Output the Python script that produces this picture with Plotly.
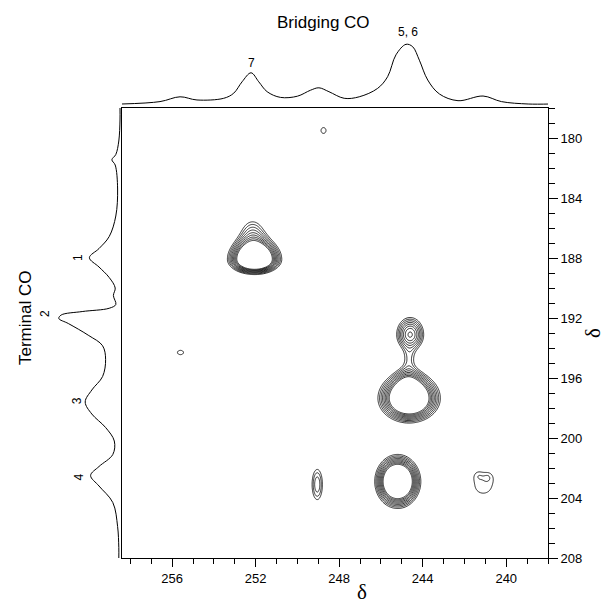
import numpy as np
import plotly.graph_objects as go

# ---------------- data ----------------
# Top projection (bridging CO): chemical shift (ppm) and relative intensity
top_ppm = [258.42, 256.58, 255.62, 254.81, 253.53, 253.05, 252.65, 252.22, 251.85, 251.45,
           250.81, 250.0, 249.37, 248.97, 248.49, 247.76, 247.04, 246.16, 245.68, 245.28,
           244.8, 244.48, 244.16, 243.76, 243.2, 242.31, 241.11, 240.23, 238.95, 237.9]
top_int = [0.0, 0.04, 0.12, 0.067, 0.095, 0.18, 0.37, 0.52, 0.37, 0.205,
           0.11, 0.13, 0.23, 0.27, 0.205, 0.095, 0.12, 0.26, 0.455, 0.82,
           0.995, 0.955, 0.73, 0.4, 0.167, 0.055, 0.133, 0.04, 0.0, 0.0]

# Left projection (terminal CO)
left_ppm = [178.0, 178.8, 180.2, 181.1, 181.45, 181.8, 183.4, 185.2, 186.57, 187.37,
            187.98, 188.6, 189.3, 190.0, 190.5, 191.1, 191.35, 191.57, 191.8, 192.03,
            192.37, 193.17, 193.85, 194.76, 195.9, 196.8, 197.6, 198.4, 199.3, 200.2,
            201.1, 201.9, 202.5, 203.2, 204.3, 205.9, 207.3, 208.0]
left_int = [0.0, 0.0, 0.02, 0.07, 0.135, 0.08, 0.04, 0.07, 0.18, 0.35,
            0.51, 0.35, 0.18, 0.08, 0.11, 0.07, 0.18, 0.63, 0.98, 1.02,
            0.86, 0.52, 0.29, 0.24, 0.29, 0.47, 0.58, 0.47, 0.24, 0.095,
            0.12, 0.35, 0.49, 0.35, 0.12, 0.04, 0.02, 0.02]

# Cross peaks: bridging shift, terminal shift, x width, y width (upfield / downfield side), amplitude
peak_x = [252.05, 252.15, 244.65, 244.7, 245.2, 244.6, 244.65, 249.05, 241.1, 241.35, 240.85, 248.75, 255.6]
peak_y = [188.1, 186.0, 197.35, 195.9, 202.9, 193.1, 194.7, 203.1, 203.2, 202.45, 202.55, 179.5, 194.3]
peak_sx = [0.84, 0.6, 0.98, 0.45, 0.72, 0.57, 0.25, 0.32, 1.1, 0.2, 0.2, 0.5, 0.6]
peak_sy_up = [0.95, 0.9, 1.15, 0.7, 1.18, 1.0, 0.5, 1.3, 1.4, 0.3, 0.3, 0.8, 0.6]
peak_sy_dn = [0.65, 0.9, 1.08, 0.7, 1.18, 0.9, 0.5, 1.3, 1.4, 0.3, 0.3, 0.8, 0.6]
peak_amp = [3.3, 1.0, 3.2, 0.5, 3.2, 1.9, 0.45, 1.35, 1.06, 0.2, 0.2, 1.03, 1.03]

# Projection peak labels
top_lab = ["7", "5, 6"]
top_lab_ppm = [252.2, 244.72]
top_lab_int = [0.69, 1.205]
left_lab = ["1", "2", "3", "4"]
left_lab_ppm = [188.0, 191.7, 197.5, 202.6]
left_lab_int = [0.70, 1.26, 0.72, 0.69]

x_ticks = [256, 252, 248, 244, 240]
y_ticks = [180, 184, 188, 192, 196, 200, 204, 208]

# ---------------- 2D map from peak table ----------------
gx = np.arange(238.0, 258.45, 0.05)
gy = np.arange(178.0, 208.01, 0.05)
X, Y = np.meshgrid(gx, gy)
Z = np.zeros_like(X)
for x0, y0, sx, su, sd, a in zip(peak_x, peak_y, peak_sx, peak_sy_up, peak_sy_dn, peak_amp):
    sy = np.where(Y < y0, su, sd)
    Z += a * np.exp(-((X - x0) ** 2 / (2 * sx ** 2) + (Y - y0) ** 2 / (2 * sy ** 2)))

# page body adds an 8 px offset; figure sized so it ends at the window edge
OFF = 8
W, H = 602, 595
def px(v):
    return (v - OFF) / W
def py(v):
    return 1 - (v - OFF) / H

fig = go.Figure()
fig.add_trace(go.Contour(
    x=gx, y=gy, z=Z, xaxis="x", yaxis="y",
    contours=dict(coloring="lines", start=1.0, end=2.0, size=0.125),
    colorscale=[[0, "black"], [1, "black"]], showscale=False,
    line=dict(width=0.8), hoverinfo="skip"))
fig.add_trace(go.Scatter(x=top_ppm, y=top_int, xaxis="x2", yaxis="y2", mode="lines",
                         line=dict(color="black", width=1.0, shape="spline"), hoverinfo="skip"))
fig.add_trace(go.Scatter(x=left_int, y=left_ppm, xaxis="x3", yaxis="y3", mode="lines",
                         line=dict(color="black", width=1.0, shape="spline"), hoverinfo="skip"))

sans = "Liberation Sans, Arial, sans-serif"
serif = "Liberation Serif, Times New Roman, serif"
tickfont = dict(family=sans, size=13, color="black")
fig.update_layout(
    width=W, height=H, margin=dict(l=0, r=0, t=0, b=0),
    paper_bgcolor="white", plot_bgcolor="white", showlegend=False,
    xaxis=dict(domain=[px(122), px(548)], range=[258.4, 238.0], anchor="y",
               tickmode="array", tickvals=x_ticks, ticks="outside", ticklen=8,
               tickcolor="black", tickfont=tickfont, showline=True, mirror=True,
               linecolor="black", linewidth=1, showgrid=False, zeroline=False,
               minor=dict(tickmode="linear", tick0=238, dtick=1, ticks="outside",
                          ticklen=5, tickcolor="black", showgrid=False),
               automargin=False),
    yaxis=dict(domain=[py(558), py(108)], range=[208, 178], anchor="x", side="right",
               tickmode="array", tickvals=y_ticks, ticks="outside", ticklen=9,
               tickcolor="black", tickfont=tickfont, showline=True, mirror=True,
               linecolor="black", linewidth=1, showgrid=False, zeroline=False,
               minor=dict(tickmode="linear", tick0=178, dtick=1, ticks="outside",
                          ticklen=6, tickcolor="black", showgrid=False),
               automargin=False),
    xaxis2=dict(domain=[px(122), px(548)], matches="x", anchor="y2", visible=False),
    yaxis2=dict(domain=[py(108), py(28)], range=[-4 / 60, 76 / 60], anchor="x2", visible=False),
    xaxis3=dict(domain=[px(30), px(122)], range=[1.5, -2 / 60], anchor="y3", visible=False),
    yaxis3=dict(domain=[py(558), py(108)], matches="y", anchor="x3", visible=False),
)

C = dict(xanchor="center", yanchor="middle", showarrow=False)
ann = []
ann.append(dict(text="Bridging CO", x=px(323), y=py(22), xref="paper", yref="paper",
                font=dict(family=sans, size=17, color="black"), **C))
ann.append(dict(text="Terminal CO", x=px(25), y=py(318), xref="paper", yref="paper", textangle=-90,
                font=dict(family=sans, size=17, color="black"), **C))
ann.append(dict(text="δ", x=px(362), y=py(592), xref="paper", yref="paper",
                font=dict(family=serif, size=21, color="black"), **C))
ann.append(dict(text="δ", x=px(593), y=py(333), xref="paper", yref="paper", textangle=-90,
                font=dict(family=serif, size=21, color="black"), **C))
for t, xv, yv in zip(top_lab, top_lab_ppm, top_lab_int):
    ann.append(dict(text=t, x=xv, y=yv, xref="x2", yref="y2",
                    font=dict(family=sans, size=12, color="black"), **C))
for t, yv, xv in zip(left_lab, left_lab_ppm, left_lab_int):
    ann.append(dict(text=t, x=xv, y=yv, xref="x3", yref="y3", textangle=-90,
                    font=dict(family=sans, size=12, color="black"), **C))
fig.update_layout(annotations=ann)

fig.write_html("out.html")
